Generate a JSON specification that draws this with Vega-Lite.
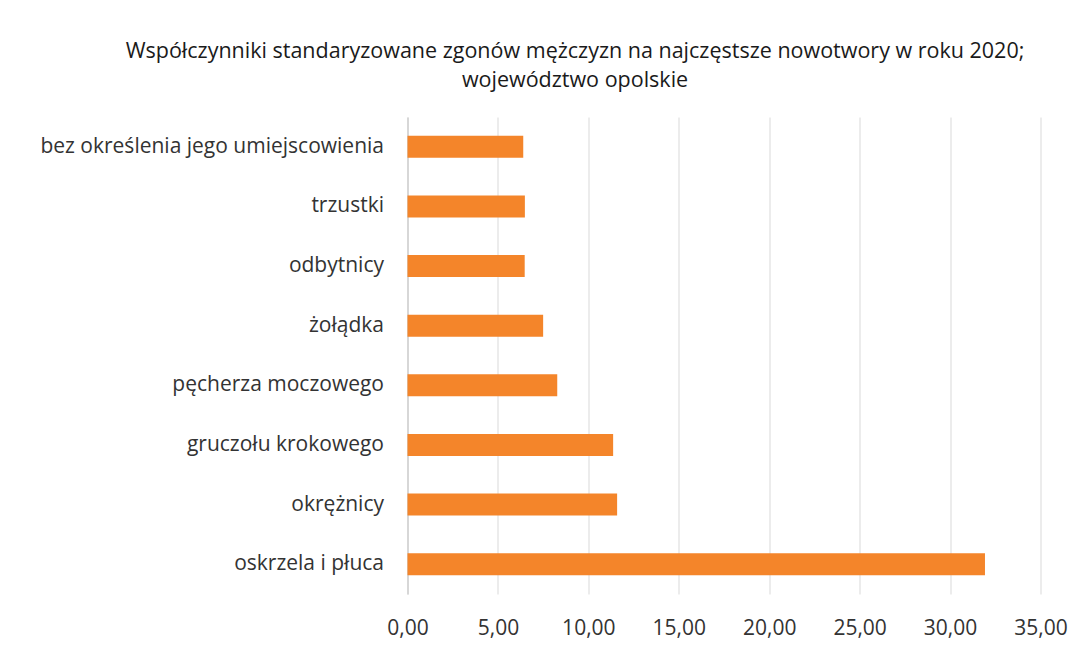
{
  "$schema": "https://vega.github.io/schema/vega-lite/v6.json",
  "autosize": {"type": "none"},
  "width": 633,
  "height": 477,
  "padding": {"left": 407.5, "top": 117, "right": 47.5, "bottom": 75},
  "background": "white",
  "title": {
    "text": ["Współczynniki standaryzowane zgonów mężczyzn na najczęstsze nowotwory w roku 2020;", "województwo opolskie"],
    "font": "Open Sans",
    "fontSize": 21.5,
    "fontWeight": "normal",
    "color": "#1a1a1a",
    "anchor": "middle",
    "dx": -149,
    "offset": 26,
    "lineHeight": 29
  },
  "data": {
    "values": [
      {"nowotwor": "bez określenia jego umiejscowienia", "wsp": 6.40},
      {"nowotwor": "trzustki", "wsp": 6.49},
      {"nowotwor": "odbytnicy", "wsp": 6.48},
      {"nowotwor": "żołądka", "wsp": 7.50},
      {"nowotwor": "pęcherza moczowego", "wsp": 8.28},
      {"nowotwor": "gruczołu krokowego", "wsp": 11.37},
      {"nowotwor": "okrężnicy", "wsp": 11.59},
      {"nowotwor": "oskrzela i płuca", "wsp": 31.93}
    ]
  },
  "mark": {"type": "bar", "color": "#F4852A"},
  "encoding": {
    "y": {
      "field": "nowotwor",
      "type": "nominal",
      "sort": null,
      "scale": {"paddingInner": 0.63, "paddingOuter": 0.315},
      "axis": {
        "title": null,
        "ticks": false,
        "domain": true,
        "domainColor": "#d0d0d0",
        "domainWidth": 1.5,
        "labelFont": "Open Sans",
        "labelFontSize": 21,
        "labelColor": "#333333",
        "labelPadding": 24,
        "labelLimit": 400
      }
    },
    "x": {
      "field": "wsp",
      "type": "quantitative",
      "scale": {"domain": [0, 35], "nice": false},
      "axis": {
        "title": null,
        "values": [0, 5, 10, 15, 20, 25, 30, 35],
        "labelExpr": "replace(format(datum.value, '.2f'), '.', ',')",
        "ticks": false,
        "domain": false,
        "grid": true,
        "gridColor": "#d9d9d9",
        "gridWidth": 1,
        "labelFont": "Open Sans",
        "labelFontSize": 21,
        "labelColor": "#333333",
        "labelPadding": 23,
        "labelFlush": false
      }
    }
  },
  "config": {"view": {"stroke": null}}
}
